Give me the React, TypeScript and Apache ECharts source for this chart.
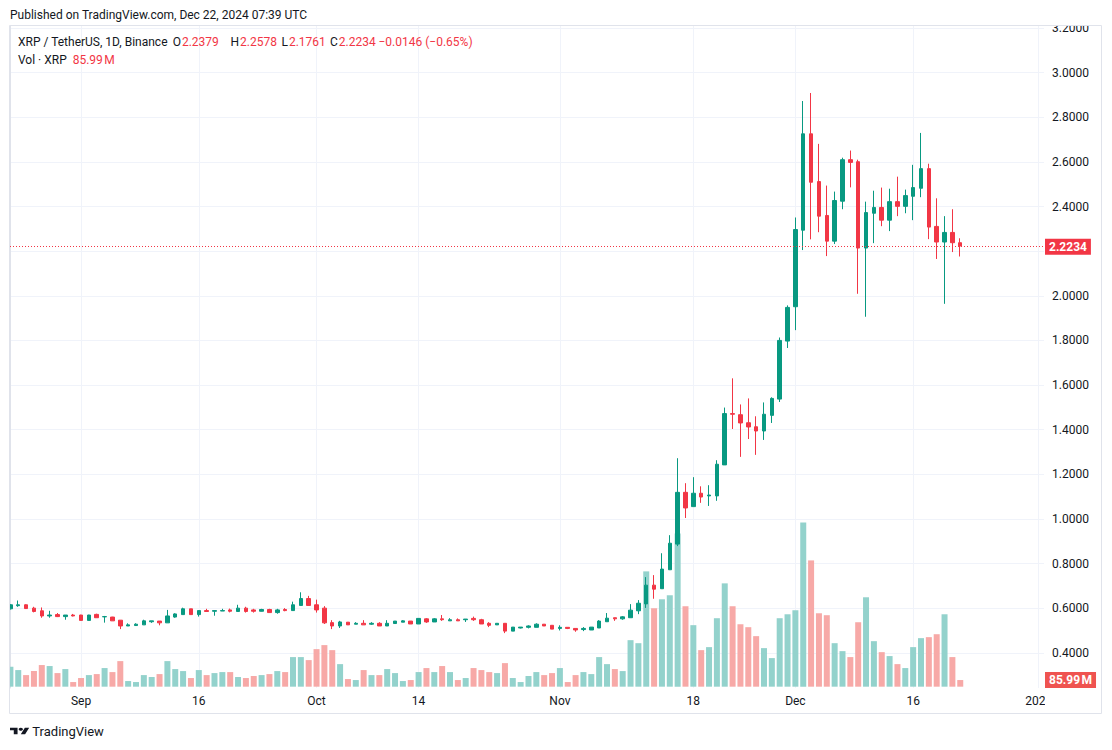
import React, { useEffect, useRef } from "react";
import * as echarts from "echarts";

// Daily XRP/USDT candles, 2024-08-23 (index 0) … 2024-12-22 (index 121)
const openP = [
  0.597, 0.611, 0.615, 0.6, 0.588, 0.565, 0.571, 0.562, 0.569,
  0.569, 0.545, 0.572, 0.561, 0.56, 0.546, 0.52, 0.522, 0.525, 0.539, 0.542, 0.534, 0.56, 0.571, 0.597,
  0.571, 0.589, 0.586, 0.587, 0.592, 0.585, 0.6, 0.592, 0.586, 0.594, 0.58, 0.594, 0.589, 0.612, 0.643,
  0.615, 0.6, 0.535, 0.52, 0.537, 0.528, 0.532, 0.528, 0.532, 0.52, 0.531, 0.537, 0.542,
  0.529, 0.552, 0.538, 0.552, 0.543, 0.548, 0.548, 0.554, 0.548, 0.532, 0.525, 0.532, 0.497, 0.511, 0.514, 0.514, 0.528, 0.523,
  0.509, 0.514, 0.509, 0.504, 0.502, 0.511, 0.539, 0.557, 0.552, 0.557, 0.588, 0.619, 0.703, 0.687, 0.772, 0.887, 1.119,
  1.055, 1.115, 1.103, 1.103, 1.242, 1.472, 1.467, 1.431, 1.413, 1.394, 1.464, 1.537, 1.797,
  1.951, 2.294, 2.726, 2.512, 2.36, 2.245, 2.424, 2.61, 2.601, 2.214, 2.37, 2.396, 2.339, 2.422, 2.401,
  2.446, 2.482, 2.57, 2.311, 2.241, 2.284, 2.2379,
];
const highP = [
  0.618, 0.634, 0.617, 0.606, 0.603, 0.588, 0.578, 0.569, 0.574,
  0.57, 0.57, 0.575, 0.565, 0.561, 0.546, 0.532, 0.532, 0.548, 0.543, 0.542, 0.592, 0.577, 0.602, 0.597,
  0.589, 0.597, 0.589, 0.597, 0.598, 0.615, 0.606, 0.597, 0.597, 0.597, 0.597, 0.6, 0.629, 0.671, 0.655,
  0.638, 0.609, 0.546, 0.543, 0.537, 0.537, 0.546, 0.537, 0.537, 0.546, 0.542, 0.546, 0.542,
  0.554, 0.555, 0.555, 0.569, 0.555, 0.554, 0.551, 0.562, 0.552, 0.537, 0.532, 0.532, 0.515, 0.515, 0.523, 0.532, 0.528, 0.523,
  0.523, 0.514, 0.509, 0.515, 0.515, 0.546, 0.578, 0.557, 0.564, 0.618, 0.636, 0.739, 0.748, 0.846, 0.927, 1.272, 1.16,
  1.187, 1.146, 1.151, 1.263, 1.499, 1.63, 1.513, 1.54, 1.46, 1.522, 1.545, 1.813, 1.957,
  2.351, 2.873, 2.909, 2.681, 2.494, 2.467, 2.619, 2.651, 2.61, 2.422, 2.471, 2.485, 2.48, 2.534, 2.476,
  2.587, 2.73, 2.592, 2.437, 2.357, 2.388, 2.2578,
];
const lowP = [
  0.594, 0.606, 0.597, 0.581, 0.557, 0.557, 0.56, 0.548, 0.563,
  0.545, 0.545, 0.557, 0.535, 0.543, 0.506, 0.52, 0.52, 0.525, 0.534, 0.523, 0.534, 0.557, 0.571, 0.571,
  0.562, 0.585, 0.566, 0.587, 0.581, 0.585, 0.58, 0.58, 0.585, 0.58, 0.575, 0.586, 0.589, 0.612, 0.612,
  0.58, 0.529, 0.506, 0.511, 0.525, 0.528, 0.525, 0.525, 0.52, 0.52, 0.531, 0.537, 0.529,
  0.529, 0.534, 0.538, 0.543, 0.543, 0.543, 0.538, 0.543, 0.529, 0.515, 0.525, 0.488, 0.497, 0.509, 0.509, 0.514, 0.52, 0.506,
  0.5, 0.506, 0.494, 0.497, 0.502, 0.511, 0.539, 0.543, 0.548, 0.557, 0.573, 0.601, 0.642, 0.687, 0.772, 0.878, 1.004,
  1.055, 1.072, 1.058, 1.081, 1.242, 1.403, 1.278, 1.358, 1.287, 1.354, 1.43, 1.524, 1.766,
  1.846, 2.205, 2.253, 2.285, 2.178, 2.232, 2.388, 2.486, 2.009, 1.906, 2.236, 2.312, 2.29, 2.357, 2.37,
  2.339, 2.442, 2.254, 2.165, 1.964, 2.196, 2.1761,
];
const closeP = [
  0.615, 0.615, 0.598, 0.585, 0.565, 0.569, 0.562, 0.569, 0.565,
  0.545, 0.569, 0.557, 0.562, 0.543, 0.52, 0.525, 0.528, 0.543, 0.543, 0.534, 0.565, 0.574, 0.597, 0.571,
  0.589, 0.585, 0.589, 0.589, 0.586, 0.6, 0.585, 0.586, 0.594, 0.58, 0.592, 0.589, 0.615, 0.643, 0.612,
  0.592, 0.534, 0.52, 0.538, 0.525, 0.532, 0.525, 0.532, 0.52, 0.532, 0.542, 0.543, 0.529,
  0.554, 0.538, 0.552, 0.548, 0.548, 0.543, 0.551, 0.548, 0.529, 0.523, 0.532, 0.497, 0.515, 0.515, 0.52, 0.528, 0.52, 0.506,
  0.514, 0.509, 0.502, 0.509, 0.515, 0.542, 0.555, 0.552, 0.561, 0.591, 0.622, 0.703, 0.685, 0.775, 0.891, 1.119, 1.049,
  1.115, 1.098, 1.107, 1.245, 1.472, 1.469, 1.43, 1.412, 1.394, 1.469, 1.54, 1.8, 1.948,
  2.297, 2.726, 2.509, 2.357, 2.245, 2.427, 2.61, 2.598, 2.214, 2.373, 2.396, 2.339, 2.422, 2.401, 2.449,
  2.485, 2.57, 2.308, 2.241, 2.284, 2.2379, 2.2234,
];
// volume in millions of XRP
const volumeM = [
  258, 215, 150, 202, 280, 267, 176, 228, 60,
  112, 150, 163, 241, 189, 331, 73, 60, 150, 125, 163, 331, 228, 202, 112,
  215, 150, 176, 189, 189, 125, 112, 138, 150, 163, 202, 189, 383, 383, 344,
  486, 538, 473, 292, 99, 86, 215, 150, 150, 228, 176, 73, 86,
  189, 241, 189, 267, 189, 86, 112, 241, 215, 189, 176, 305, 112, 60, 138, 189, 150, 176,
  241, 60, 150, 189, 163, 383, 292, 228, 202, 602, 563, 1492, 1015, 1131, 1183, 1982, 1041,
  796, 473, 512, 886, 1337, 1041, 808, 770, 654, 499, 370, 886, 937,
  989, 2124, 1634, 950, 925, 563, 460, 383, 834, 1157, 589, 447, 396, 292, 241,
  512, 628, 641, 679, 937, 383, 85.99,
];
const xTickDays = [9, 24, 39, 52, 70, 87, 100, 115, 131];
const xTickLabels = ["Sep", "16", "Oct", "14", "Nov", "18", "Dec", "16", "2025"];
const priceGridTicks = [0.4, 0.6, 0.8, 1.0, 1.2, 1.4, 1.6, 1.8, 2.0, 2.2, 2.4, 2.6, 2.8, 3.0, 3.2];
// 2.2000 sits behind the last-price tag in the reference
const priceLabelTicks = [0.4, 0.6, 0.8, 1.0, 1.2, 1.4, 1.6, 1.8, 2.0, 2.4, 2.6, 2.8, 3.0, 3.2];
const lastPrice = 2.2234;
const lastVolume = 85.99;
const changeText = "\u22120.0146 (\u22120.65%)";

const UP = "#089981";
const DOWN = "#F23645";
const VOL_UP = "#93D2CC";
const VOL_DOWN = "#F7A9A7";
const TEXT = "#131722";
const GRID = "#F0F3FA";
const FONT = "Roboto, 'Noto Sans', sans-serif";

echarts.graphic.registerShape(
  "tvlogo",
  echarts.graphic.extendPath("M14 22H7V11H0V4h14v18zM28 22h-8l7.5-18h8L28 22z", {})
);

function txt(text: string, x: number, y: number, fill: string, size = 12, weight: any = "normal") {
  return {
    type: "text",
    x,
    y,
    z: 120,
    style: { text, fill, fontSize: size, fontFamily: FONT, fontWeight: weight, verticalAlign: "middle", align: "left" },
  };
}

function pair(key: string, value: string, x: number, y: number) {
  return {
    type: "text",
    x,
    y,
    z: 120,
    style: {
      text: `{k|${key}}{v|${value}}`,
      fontSize: 12,
      fontFamily: FONT,
      verticalAlign: "middle",
      align: "left",
      rich: {
        k: { fill: TEXT, fontSize: 12, fontFamily: FONT, padding: [0, 1, 0, 0] },
        v: { fill: DOWN, fontSize: 12, fontFamily: FONT },
      },
    },
  };
}

export default function App() {
  const ref = useRef<HTMLDivElement>(null);
  useEffect(() => {
    if (!ref.current) return;
    const chart = echarts.init(ref.current, undefined, { renderer: "svg" });
    const candleData = openP.map((o, i) => [i, o, closeP[i], lowP[i], highP[i]]);
    const volData = volumeM.map((v, i) => ({
      value: [i, v],
      itemStyle: { color: closeP[i] >= openP[i] ? VOL_UP : VOL_DOWN },
    }));
    const tickMap: Record<number, string> = {};
    xTickDays.forEach((d, i) => (tickMap[d] = xTickLabels[i]));
    const n = openP.length - 1;

    chart.setOption({
      animation: false,
      backgroundColor: "#ffffff",
      textStyle: { fontFamily: FONT },
      grid: { left: 10, right: 68, top: 26, bottom: 62, containLabel: false },
      xAxis: {
        type: "value",
        min: -0.05,
        max: 131.67,
        axisLine: { show: false },
        axisTick: { show: false, customValues: xTickDays },
        axisLabel: {
          customValues: xTickDays,
          formatter: (v: number) => tickMap[Math.round(v)] ?? "",
          color: TEXT,
          fontSize: 12,
          margin: 7,
        },
        splitLine: { show: true, lineStyle: { color: GRID, width: 1 } },
      },
      yAxis: [
        {
          type: "value",
          position: "right",
          min: 0.242,
          max: 3.2093,
          axisLine: { show: true, lineStyle: { color: "#E0E3EB" } },
          axisTick: { show: false, customValues: priceGridTicks },
          axisLabel: {
            customValues: priceLabelTicks,
            formatter: (v: number) => v.toFixed(4),
            color: TEXT,
            fontSize: 12,
            margin: 8,
          },
          splitLine: { show: true, lineStyle: { color: GRID, width: 1 } },
        },
        { type: "value", min: -17, max: 8549, show: false, splitLine: { show: false } },
      ],
      series: [
        {
          type: "bar",
          name: "Vol",
          yAxisIndex: 1,
          data: volData,
          barWidth: 6,
          z: 1,
          markLine: {
            silent: true,
            symbol: ["none", "none"],
            lineStyle: { color: "rgba(0,0,0,0)", width: 1 },
            label: {
              show: true,
              position: "end",
              distance: 1,
              formatter: lastVolume.toFixed(2) + "\u202FM",
              color: "#fff",
              backgroundColor: "#EF5350",
              padding: [2, 4, 2, 4],
              fontSize: 12,
              fontWeight: "bold",
            },
            data: [{ yAxis: lastVolume }],
          },
        },
        {
          type: "candlestick",
          yAxisIndex: 0,
          data: candleData,
          encode: { x: 0, y: [1, 2, 3, 4] },
          barWidth: 4,
          z: 2,
          itemStyle: { color: UP, color0: DOWN, borderColor: UP, borderColor0: DOWN, borderWidth: 1 },
          markLine: {
            silent: true,
            symbol: ["none", "none"],
            lineStyle: { color: DOWN, width: 1, type: [1, 2] },
            label: {
              show: true,
              position: "end",
              distance: 1,
              formatter: lastPrice.toFixed(4),
              color: "#fff",
              backgroundColor: DOWN,
              padding: [2, 4, 2, 4],
              fontSize: 12,
              fontWeight: "bold",
            },
            data: [{ yAxis: lastPrice }],
          },
        },
      ],
      graphic: [
        { type: "rect", z: 100, shape: { x: 0, y: 24, width: 9.5, height: 670 }, style: { fill: "#fff" } },
        { type: "rect", z: 100, shape: { x: 1045, y: 10, width: 60, height: 16 }, style: { fill: "#fff" } },
        { type: "rect", z: 100, shape: { x: 1045, y: 689, width: 56, height: 24 }, style: { fill: "#fff" } },
        {
          type: "rect",
          z: 110,
          shape: { x: 9.5, y: 25.5, width: 1092, height: 688 },
          style: { fill: "none", stroke: "#E0E3EB", lineWidth: 1 },
        },
        txt("Published on TradingView.com, Dec 22, 2024 07:39 UTC", 10, 15, TEXT),
        txt("XRP / TetherUS, 1D, Binance", 18, 42, TEXT),
        pair("O", openP[n].toFixed(4), 172.7, 42),
        pair("H", highP[n].toFixed(4), 230.5, 42),
        pair("L", lowP[n].toFixed(4), 281.5, 42),
        pair("C", closeP[n].toFixed(4), 330, 42),
        txt(changeText, 378.5, 42, DOWN),
        txt("Vol \u00B7 XRP", 18, 59.5, TEXT),
        txt(lastVolume.toFixed(2) + "\u202FM", 72.7, 59.5, DOWN),
        {
          type: "group",
          x: 10,
          y: 726.2,
          scaleX: 0.54,
          scaleY: 0.37,
          z: 120,
          children: [
            { type: "tvlogo", style: { fill: TEXT } },
            { type: "circle", shape: { cx: 20, cy: 8, r: 4 }, style: { fill: TEXT } },
          ],
        },
        txt("TradingView", 32.3, 731.7, TEXT, 13),
      ],
    });
    return () => chart.dispose();
  }, []);
  return (
    <div
      ref={ref}
      style={{ position: "fixed", left: 0, top: 0, width: 1112, height: 750, background: "#fff" }}
    />
  );
}
